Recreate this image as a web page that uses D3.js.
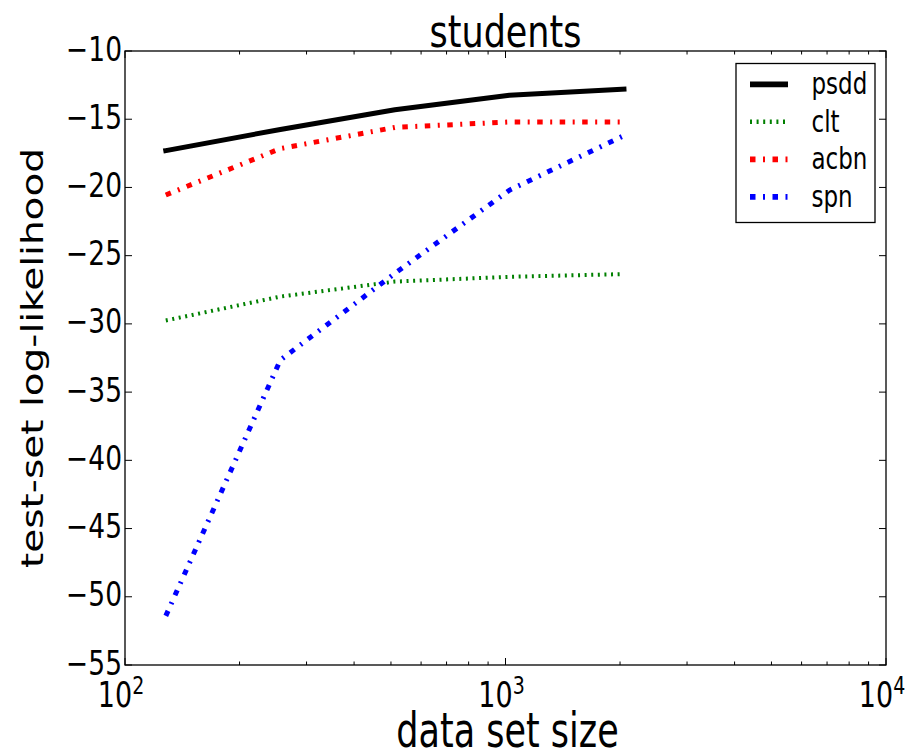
<!DOCTYPE html>
<meta charset="utf-8">
<style>
body { margin: 0; background: #fff; }
svg text { font-family: "DejaVu Sans", sans-serif; fill: #000; }
</style>
<body>
<script src="https://cdn.jsdelivr.net/npm/d3@7"></script>
<script>

// data
var sizes = [128, 256, 512, 1024, 2048];
var psdd = [-17.3, -15.75, -14.3, -13.25, -12.8];
var clt  = [-29.75, -28.0, -26.9, -26.55, -26.35];
var acbn = [-20.55, -17.15, -15.6, -15.2, -15.2];
var spn  = [-51.4, -32.65, -26.3, -20.2, -16.2];

var seriesNames = ["psdd", "clt", "acbn", "spn"];
var yTicks = [-55, -50, -45, -40, -35, -30, -25, -20, -15, -10];
var xTicks = [100, 1000, 10000];
var xTickExp = ["2", "3", "4"];

var W = 913, H = 754;
var pL = 125, pR = 886, pT = 51, pB = 665;
var sy = 1.3; // picture is stretched vertically

var svg = d3.select("body").append("svg")
    .attr("width", W).attr("height", H);

var x = d3.scaleLog().domain([100, 10000]).range([pL, pR]);
var y = d3.scaleLinear().domain([-55, -10]).range([pB, pT]);

var styles = {
  psdd: {color: "#000000", width: 5, dash: null, cap: "square"},
  clt:  {color: "#008000", width: 4, dash: "2,4.6", cap: "butt"},
  acbn: {color: "#ff0000", width: 5, dash: "5.5,7.5,2,7.5", cap: "butt"},
  spn:  {color: "#0000ff", width: 5, dash: "5.5,7.5,2,7.5", cap: "butt"}
};
var values = {psdd: psdd, clt: clt, acbn: acbn, spn: spn};

var line = d3.line()
    .x(function(d) { return x(d[0]); })
    .y(function(d) { return y(d[1]); });

// minor ticks for log axis
var minor = [];
[100, 1000].forEach(function(b) {
  for (var k = 2; k <= 9; k++) minor.push(b * k);
});

var g = svg.append("g");

// ticks (inside, top/bottom, left/right)
xTicks.forEach(function(t) {
  g.append("line").attr("x1", x(t)).attr("x2", x(t)).attr("y1", pB).attr("y2", pB - 7).attr("stroke", "#000");
  g.append("line").attr("x1", x(t)).attr("x2", x(t)).attr("y1", pT).attr("y2", pT + 7).attr("stroke", "#000");
});
minor.forEach(function(t) {
  g.append("line").attr("x1", x(t)).attr("x2", x(t)).attr("y1", pB).attr("y2", pB - 3.5).attr("stroke", "#000");
  g.append("line").attr("x1", x(t)).attr("x2", x(t)).attr("y1", pT).attr("y2", pT + 3.5).attr("stroke", "#000");
});
yTicks.forEach(function(t) {
  g.append("line").attr("x1", pL).attr("x2", pL + 7).attr("y1", y(t)).attr("y2", y(t)).attr("stroke", "#000");
  g.append("line").attr("x1", pR).attr("x2", pR - 7).attr("y1", y(t)).attr("y2", y(t)).attr("stroke", "#000");
});

// series
seriesNames.forEach(function(name) {
  var s = styles[name];
  var pts = sizes.map(function(v, i) { return [v, values[name][i]]; });
  g.append("path")
    .datum(pts)
    .attr("d", line)
    .attr("fill", "none")
    .attr("stroke", s.color)
    .attr("stroke-width", s.width)
    .attr("stroke-dasharray", s.dash)
    .attr("stroke-linecap", s.cap)
    .attr("stroke-linejoin", "round");
});

// frame
g.append("rect")
  .attr("x", pL).attr("y", pT)
  .attr("width", pR - pL).attr("height", pB - pT)
  .attr("fill", "none").attr("stroke", "#000").attr("stroke-width", 1.3);

// stretched text helper
function label(tx, ty, str, size, anchor, scaleY, rot) {
  var t = svg.append("text")
    .attr("transform", "translate(" + tx + "," + ty + ") scale(1," + scaleY + ")" + (rot ? " rotate(" + rot + ")" : ""))
    .attr("font-size", size)
    .attr("text-anchor", anchor)
    .text(str);
  return t;
}

// y tick labels
yTicks.forEach(function(t) {
  label(pL - 3, y(t) + 9.5, "\u2212" + Math.abs(t), 26.5, "end", sy);
});

// x tick labels 10^n
xTicks.forEach(function(t, i) {
  var tx = label(x(t) - 4, 707, "10", 27, "middle", sy);
  tx.append("tspan")
    .attr("font-size", 19)
    .attr("dy", -10)
    .text(xTickExp[i]);
});

// title and axis labels
label((pL + pR) / 2, 46.5, "students", 35, "middle", 1.27);
label((pL + pR) / 2 + 2, 747, "data set size", 35, "middle", 1.36);
label(43, (pT + pB) / 2, "test-set log-likelihood", 30, "middle", 1.3, -90);

// legend
var lg = svg.append("g");
lg.append("rect")
  .attr("x", 736).attr("y", 63.5)
  .attr("width", 139).attr("height", 159)
  .attr("fill", "#fff").attr("stroke", "#000").attr("stroke-width", 1.3);
seriesNames.forEach(function(name, i) {
  var s = styles[name];
  var ly = 84.3 + i * 37.5;
  lg.append("line")
    .attr("x1", 750).attr("x2", 788)
    .attr("y1", ly).attr("y2", ly)
    .attr("stroke", s.color)
    .attr("stroke-width", s.width * 1.15)
    .attr("stroke-dasharray", s.dash)
    .attr("stroke-linecap", "butt");
  label(811.5, ly + 10, name, 23, "start", 1.3);
});

</script>
</body>
